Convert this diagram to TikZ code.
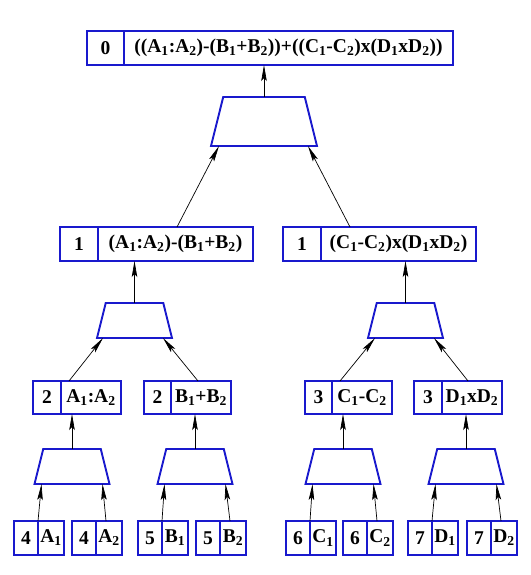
\documentclass[tikz,border=0pt]{standalone}
\usepackage{fontspec}
\setmainfont{Liberation Serif}
\usetikzlibrary{positioning,shapes.geometric,arrows.meta}
\definecolor{muxblue}{RGB}{25,25,205}
\newcommand{\idx}[1]{\textsubscript{#1}}

\begin{document}
\begin{tikzpicture}[x=1pt, y=-1pt,
  cell/.style={rectangle, draw=muxblue, line width=1.9pt, minimum height=34pt,
    inner sep=1pt, outer sep=0pt, font=\fontsize{19.5}{22}\selectfont\bfseries},
  keycell/.style={cell, minimum width=#1},
  exprcell/.style={cell, minimum width=#1},
  mux/.style={trapezium, draw=muxblue, line width=1.9pt, trapezium left angle=76,
    trapezium right angle=76, trapezium stretches body=true,
    minimum width=75pt, inner xsep=0pt, inner ysep=17.5pt, outer sep=0pt},
  bigmux/.style={mux, minimum width=106pt, inner ysep=24.5pt},
  link/.style={-{Stealth[length=16pt, width=5.5pt, inset=3pt]}, line width=0.7pt}
]
  \useasboundingbox (0,0) rectangle (530,575);

  % root
  \node[keycell=37pt] (k0) at (105.5,48) {0};
  \node[exprcell=329pt, right=0pt of k0] (e0) {((A\idx{1}:A\idx{2})-(B\idx{1}+B\idx{2}))+((C\idx{1}-C\idx{2})x(D\idx{1}xD\idx{2}))};
  \node[bigmux] (m0) at (264,121.5) {};

  % first level
  \node[keycell=38pt] (k1a) at (79,244) {1};
  \node[exprcell=155pt, right=0pt of k1a] (e1a) {(A\idx{1}:A\idx{2})-(B\idx{1}+B\idx{2})};
  \node[keycell=38pt] (k1b) at (302,244) {1};
  \node[exprcell=155pt, right=0pt of k1b] (e1b) {(C\idx{1}-C\idx{2})x(D\idx{1}xD\idx{2})};
  \node[mux] (m1a) at (134.5,320.5) {};
  \node[mux] (m1b) at (405.5,320.5) {};

  % second level
  \node[keycell=28pt, minimum height=33pt] (kA) at (47,397.5) {2};
  \node[exprcell=60pt, minimum height=33pt, right=0pt of kA] (eA) {A\idx{1}:A\idx{2}};
  \node[keycell=27pt, minimum height=33pt] (kB) at (157.5,397.5) {2};
  \node[exprcell=60pt, minimum height=33pt, right=0pt of kB] (eB) {B\idx{1}+B\idx{2}};
  \node[keycell=27pt, minimum height=33pt] (kC) at (318.5,397.5) {3};
  \node[exprcell=60pt, minimum height=33pt, right=0pt of kC] (eC) {C\idx{1}-C\idx{2}};
  \node[keycell=28pt, minimum height=33pt] (kD) at (428,397.5) {3};
  \node[exprcell=60pt, minimum height=33pt, right=0pt of kD] (eD) {D\idx{1}xD\idx{2}};
  \node[mux] (m2a) at (72,466.5) {};
  \node[mux] (m2b) at (195,466.5) {};
  \node[mux] (m2c) at (343,466.5) {};
  \node[mux] (m2d) at (466,466.5) {};

  % leaves
  \node[keycell=24pt] (kA1) at (26,538) {4};
  \node[exprcell=26pt, right=0pt of kA1] (eA1) {A\idx{1}};
  \node[keycell=24pt] (kA2) at (84,538) {4};
  \node[exprcell=26pt, right=0pt of kA2] (eA2) {A\idx{2}};
  \node[keycell=24pt] (kB1) at (150,538) {5};
  \node[exprcell=26pt, right=0pt of kB1] (eB1) {B\idx{1}};
  \node[keycell=24pt] (kB2) at (208,538) {5};
  \node[exprcell=26pt, right=0pt of kB2] (eB2) {B\idx{2}};
  \node[keycell=24pt] (kC1) at (298,538) {6};
  \node[exprcell=26pt, right=0pt of kC1] (eC1) {C\idx{1}};
  \node[keycell=24pt] (kC2) at (355,538) {6};
  \node[exprcell=26pt, right=0pt of kC2] (eC2) {C\idx{2}};
  \node[keycell=24pt] (kD1) at (420,538) {7};
  \node[exprcell=26pt, right=0pt of kD1] (eD1) {D\idx{1}};
  \node[keycell=24pt] (kD2) at (479,538) {7};
  \node[exprcell=26pt, right=0pt of kD2] (eD2) {D\idx{2}};

  % links up the tree
  \draw[link] (m0.north) -- (m0.north |- e0.south);
  \draw[link] ([xshift=79pt]e1a.north west) -- ([xshift=8pt]m0.bottom left corner);
  \draw[link] ([xshift=29pt]e1b.north west) -- ([xshift=-9pt]m0.bottom right corner);

  \draw[link] (m1a.north) -- (m1a.north |- e1a.south);
  \draw[link] (m1b.north) -- (m1b.north |- e1b.south);
  \draw[link] ([xshift=8pt]eA.north west) -- ([xshift=6pt]m1a.bottom left corner);
  \draw[link] ([xshift=27pt]eB.north west) -- ([xshift=-9pt]m1a.bottom right corner);
  \draw[link] ([xshift=8pt]eC.north west) -- ([xshift=7pt]m1b.bottom left corner);
  \draw[link] ([xshift=26pt]eD.north west) -- ([xshift=-9pt]m1b.bottom right corner);

  \draw[link] (m2a.north) -- (m2a.north |- eA.south);
  \draw[link] (m2b.north) -- (m2b.north |- eB.south);
  \draw[link] (m2c.north) -- (m2c.north |- eC.south);
  \draw[link] (m2d.north) -- (m2d.north |- eD.south);

  \draw[link] (eA1.north west) -- ([xshift=7pt]m2a.bottom left corner);
  \draw[link] ([xshift=10pt]eA2.north west) -- ([xshift=-7pt]m2a.bottom right corner);
  \draw[link] (eB1.north west) -- ([xshift=7pt]m2b.bottom left corner);
  \draw[link] ([xshift=10pt]eB2.north west) -- ([xshift=-7pt]m2b.bottom right corner);
  \draw[link] (eC1.north west) -- ([xshift=7pt]m2c.bottom left corner);
  \draw[link] ([xshift=10pt]eC2.north west) -- ([xshift=-7pt]m2c.bottom right corner);
  \draw[link] (eD1.north west) -- ([xshift=7pt]m2d.bottom left corner);
  \draw[link] ([xshift=10pt]eD2.north west) -- ([xshift=-7pt]m2d.bottom right corner);
\end{tikzpicture}
\end{document}
